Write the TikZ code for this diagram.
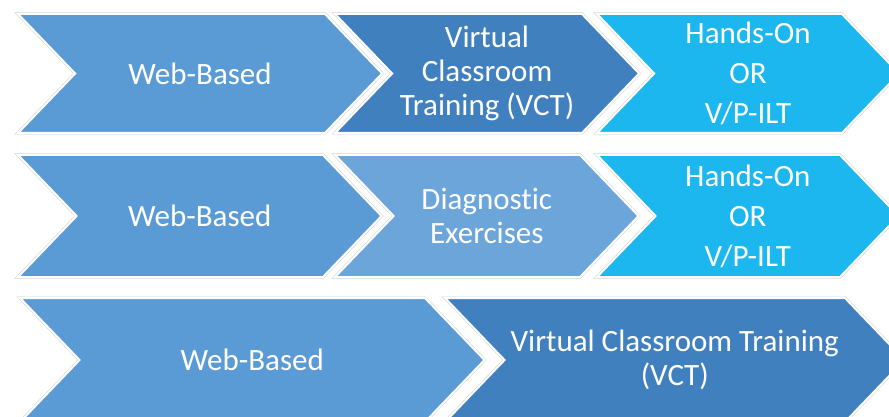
\documentclass[tikz,border=0pt]{standalone}
\usepackage{fontspec}
\setmainfont[Ligatures={NoCommon}]{Carlito}
\definecolor{webblue}{HTML}{5B9BD5}
\definecolor{vctblue}{HTML}{4180BE}
\definecolor{handscyan}{HTML}{1BB7EE}
\definecolor{diagblue}{HTML}{6BA5DA}
\tikzset{
  chev/.style={fill=#1,draw=white,line width=2pt,line join=miter,
    preaction={draw=gray!35,line width=3pt}},
  lbl/.style={text=white,align=center,font=\fontsize{31}{34}\selectfont}
}
% name, left, right, top, bottom, colour, text
\newcommand{\chev}[7]{%
  \pgfmathsetmacro{\chevd}{0.48*(#5-#4)}%
  \draw[chev=#6] (#2,#4) -- (#3,#4) -- (#3+\chevd,{(#4+#5)/2}) -- (#3,#5)
    -- (#2,#5) -- (#2+\chevd,{(#4+#5)/2}) -- cycle;
  \node[lbl] (#1) at ({(#2+#3+\chevd)/2},{(#4+#5)/2}) {#7};}
\begin{document}
\begin{tikzpicture}[x=1pt,y=-1pt]
\useasboundingbox[fill=white] (0,0) rectangle (889,417);
% first path
\chev{webA}{18}{325}{14}{133}{webblue}{Web-Based}
\chev{vctA}{335}{582}{14}{133}{vctblue}{Virtual\\Classroom\\Training (VCT)}
\chev{handsA}{597}{842}{14}{133}{handscyan}{Hands-On\\[6pt]OR\\[6pt]V/P-ILT}
% second path
\chev{webB}{18}{323}{155}{277}{webblue}{Web-Based}
\chev{diagB}{335}{580}{155}{277}{diagblue}{Diagnostic\\Exercises}
\chev{handsB}{597}{840}{155}{277}{handscyan}{Hands-On\\[6pt]OR\\[6pt]V/P-ILT}
% third path
\chev{webC}{20}{425}{298}{422}{webblue}{Web-Based}
\chev{vctC}{445}{845}{298}{422}{vctblue}{Virtual Classroom Training\\(VCT)}
\end{tikzpicture}
\end{document}
